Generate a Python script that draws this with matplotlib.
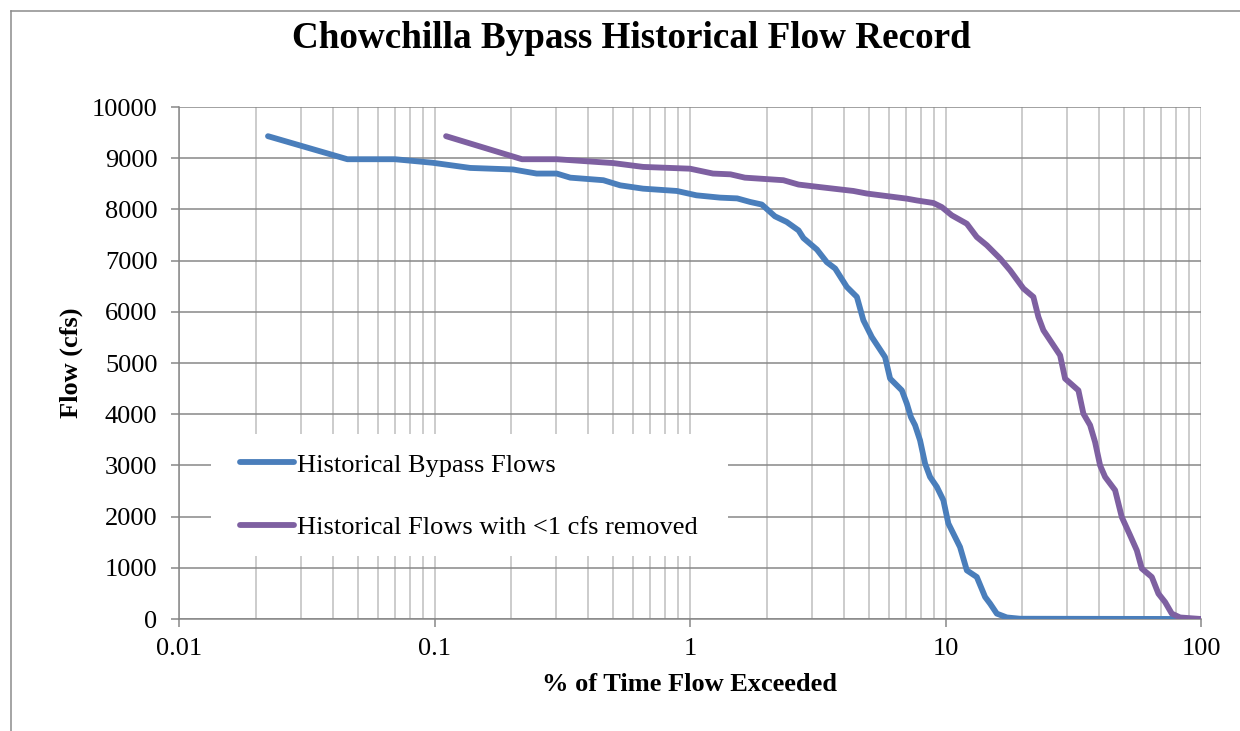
import matplotlib
matplotlib.use("Agg")
import matplotlib.pyplot as plt
from matplotlib.patches import Rectangle
from matplotlib.lines import Line2D
from matplotlib.ticker import LogLocator, NullFormatter, FixedLocator, FixedFormatter

# Exceedance curve, all historical flows
blue_pct = [0.0223, 0.0456, 0.070, 0.0987, 0.138, 0.203, 0.251, 0.301, 0.340, 0.458,
            0.533, 0.655, 0.888, 1.06, 1.31, 1.53, 1.72, 1.91, 2.15, 2.39,
            2.66, 2.78, 3.14, 3.43, 3.70, 4.11, 4.50, 4.77, 5.15, 5.80,
            6.07, 6.75, 7.06, 7.32, 7.60, 7.95, 8.32, 8.70, 9.25, 9.81,
            10.26, 11.40, 12.12, 13.26, 14.29, 14.95, 15.88, 17.38, 19.6, 100]
blue_cfs = [9430, 8980, 8980, 8910, 8810, 8780, 8700, 8700, 8620, 8570,
            8470, 8405, 8360, 8275, 8230, 8215, 8145, 8095, 7865, 7755,
            7590, 7440, 7215, 6970, 6845, 6485, 6290, 5835, 5505, 5115,
            4695, 4465, 4205, 3945, 3785, 3490, 3035, 2775, 2580, 2320,
            1865, 1405, 950, 820, 430, 300, 105, 30, 5, 0]

# Exceedance curve with the <1 cfs days dropped
purple_pct = [0.111, 0.220, 0.301, 0.500, 0.655, 1.00, 1.23, 1.44, 1.64, 2.32,
              2.66, 3.23, 4.36, 4.92, 7.06, 7.72, 8.97, 9.67, 10.58, 12.12,
              13.26, 14.51, 16.36, 17.90, 20.18, 22.08, 23.10, 24.16, 28.09, 29.38,
              33.13, 34.65, 36.81, 38.50, 40.28, 42.14, 46.11, 48.98, 52.78, 56.08,
              58.66, 64.19, 68.13, 72.36, 76.86, 82.81, 100]
purple_cfs = [9430, 8980, 8980, 8905, 8830, 8795, 8700, 8685, 8620, 8570,
              8485, 8435, 8360, 8310, 8210, 8175, 8125, 8045, 7885, 7720,
              7460, 7300, 7040, 6810, 6455, 6290, 5900, 5640, 5150, 4695,
              4465, 4010, 3785, 3455, 3000, 2775, 2515, 1990, 1635, 1340,
              985, 820, 495, 330, 105, 30, 0]

x_ticks = [0.01, 0.1, 1, 10, 100]
x_tick_labels = ["0.01", "0.1", "1", "10", "100"]
y_ticks = list(range(0, 10001, 1000))

series_labels = ["Historical Bypass Flows", "Historical Flows with <1 cfs removed"]
series_colors = ["#4A7EBB", "#7E60A1"]

plt.rcParams["font.family"] = ["Liberation Serif", "DejaVu Serif"]
W, H = 1240, 731
fig = plt.figure(figsize=(W / 100, H / 100), dpi=100)
ax = fig.add_axes([179 / W, 1 - 619 / H, (1201 - 179) / W, (619 - 107) / H])

ax.plot(blue_pct, blue_cfs, color=series_colors[0], lw=4.2,
        solid_capstyle="round", solid_joinstyle="round", zorder=3)
ax.plot(purple_pct, purple_cfs, color=series_colors[1], lw=4.2,
        solid_capstyle="round", solid_joinstyle="round", zorder=4)

ax.set_xscale("log")
ax.set_xlim(0.01, 100)
ax.set_ylim(0, 10000)
ax.xaxis.set_major_locator(FixedLocator(x_ticks))
ax.xaxis.set_major_formatter(FixedFormatter(x_tick_labels))
ax.xaxis.set_minor_locator(LogLocator(base=10, subs=range(2, 10)))
ax.xaxis.set_minor_formatter(NullFormatter())
ax.set_yticks(y_ticks)
ax.set_yticklabels([str(v) for v in y_ticks])

# gridlines: dark horizontals, light verticals
ax.set_axisbelow(True)
ax.grid(True, which="major", axis="y", color="#878787", lw=1.1)
ax.grid(True, which="both", axis="x", color="#BEBEBE", lw=1.1)

for side in ["top", "right"]:
    ax.spines[side].set_visible(False)
for side in ["left", "bottom"]:
    ax.spines[side].set_color("#878787")
    ax.spines[side].set_linewidth(1.1)

ax.tick_params(axis="both", which="major", direction="out", length=5.5, width=1.1,
               color="#878787", labelsize=19, labelcolor="black")
ax.tick_params(axis="x", which="major", pad=8)
ax.tick_params(axis="y", which="major", pad=10)
ax.tick_params(axis="x", which="minor", length=0)

ax.set_xlabel("% of Time Flow Exceeded", fontsize=19, fontweight="bold")
ax.xaxis.set_label_coords(0.5, -0.1055)
ax.set_ylabel("Flow (cfs)", fontsize=19, fontweight="bold")
ax.yaxis.set_label_coords(-0.094, 0.5)

fig.text(631 / W, 1 - 39 / H, "Chowchilla Bypass Historical Flow Record",
         ha="center", va="center", fontsize=26.7, fontweight="bold")

# white legend panel covering the grid
ax.add_patch(Rectangle((211 / W, 1 - 556 / H), (728 - 211) / W, (556 - 434) / H,
                       transform=fig.transFigure, facecolor="white",
                       edgecolor="none", zorder=2))
handles = [Line2D([], [], color=c, lw=4.2, solid_capstyle="round") for c in series_colors]
ax.legend(handles, series_labels, loc="center left",
          bbox_to_anchor=(240 / W, 1 - 496 / H), bbox_transform=fig.transFigure,
          frameon=False, fontsize=19, handlelength=2.05, handletextpad=0.1,
          labelspacing=1.47, borderpad=0, borderaxespad=0)

# chart area frame (left and top edges)
fig.add_artist(Line2D([11 / W, 11 / W], [0, 1 - 11 / H], color="#8C8C8C", lw=1.1,
                      transform=fig.transFigure))
fig.add_artist(Line2D([11 / W, 1], [1 - 11 / H, 1 - 11 / H], color="#8C8C8C", lw=1.1,
                      transform=fig.transFigure))

fig.savefig("out.png", dpi=100)
